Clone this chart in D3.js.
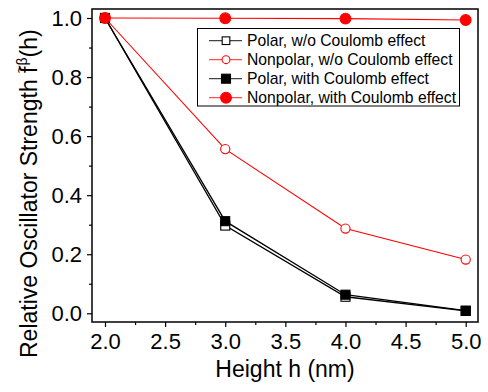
<!DOCTYPE html>
<html>
<head>
<meta charset="utf-8">
<script src="https://cdn.jsdelivr.net/npm/d3@7"></script>
<style>
  html, body { margin: 0; padding: 0; background: #fff; }
  svg { display: block; font-family: "Liberation Sans", Arial, sans-serif; }
</style>
</head>
<body>
<svg id="chart" width="488" height="392"></svg>
<script>
// Heights (nm) and relative oscillator strengths for each case
const heights = [2.0, 3.0, 4.0, 5.0];
const polarNoCoulomb = [1.0, 0.297, 0.056, 0.008];
const nonpolarNoCoulomb = [1.0, 0.556, 0.287, 0.182];
const polarCoulomb = [1.0, 0.312, 0.063, 0.009];
const nonpolarCoulomb = [1.0, 0.999, 0.998, 0.993];

const xTicks = [2.0, 2.5, 3.0, 3.5, 4.0, 4.5, 5.0];
const yTicks = [0.0, 0.2, 0.4, 0.6, 0.8, 1.0];

const series = [
  { name: "Polar, w/o Coulomb effect", values: polarNoCoulomb, color: "#000", shape: "square", filled: false },
  { name: "Nonpolar, w/o Coulomb effect", values: nonpolarNoCoulomb, color: "#ff0000", shape: "circle", filled: false },
  { name: "Polar, with Coulomb effect", values: polarCoulomb, color: "#000", shape: "square", filled: true },
  { name: "Nonpolar, with Coulomb effect", values: nonpolarCoulomb, color: "#ff0000", shape: "circle", filled: true }
];

const svg = d3.select("#chart");
const frame = { left: 92, right: 478, top: 9, bottom: 322 };

const x = d3.scaleLinear().domain([2, 5]).range([105, 465.7]);
const y = d3.scaleLinear().domain([0, 1]).range([313.3, 18]);

// Plot frame
svg.append("rect")
  .attr("x", frame.left).attr("y", frame.top)
  .attr("width", frame.right - frame.left).attr("height", frame.bottom - frame.top)
  .attr("fill", "none").attr("stroke", "#000").attr("stroke-width", 1.5);

// Minor ticks
const xMinor = d3.range(2.25, 5.0, 0.5);
const yMinor = d3.range(0.1, 1.0, 0.2);
svg.append("g").attr("transform", `translate(0,${frame.bottom})`)
  .call(d3.axisBottom(x).tickValues(xMinor).tickSize(3).tickFormat(""))
  .call(g => g.select(".domain").remove())
  .call(g => g.selectAll("line").attr("stroke-width", 1.2));
svg.append("g").attr("transform", `translate(${frame.left},0)`)
  .call(d3.axisLeft(y).tickValues(yMinor).tickSize(3).tickFormat(""))
  .call(g => g.select(".domain").remove())
  .call(g => g.selectAll("line").attr("stroke-width", 1.2));

// Major ticks and labels
svg.append("g").attr("transform", `translate(0,${frame.bottom})`)
  .call(d3.axisBottom(x).tickValues(xTicks).tickSize(5).tickPadding(6).tickFormat(d3.format(".1f")))
  .call(g => g.select(".domain").remove())
  .call(g => g.selectAll("line").attr("stroke-width", 1.2))
  .call(g => g.selectAll("text").attr("font-size", 22).attr("fill", "#000")
    .attr("font-family", "'Liberation Sans', Arial, sans-serif"));
svg.append("g").attr("transform", `translate(${frame.left},0)`)
  .call(d3.axisLeft(y).tickValues(yTicks).tickSize(5).tickPadding(5).tickFormat(d3.format(".1f")))
  .call(g => g.select(".domain").remove())
  .call(g => g.selectAll("line").attr("stroke-width", 1.2))
  .call(g => g.selectAll("text").attr("font-size", 22).attr("fill", "#000")
    .attr("font-family", "'Liberation Sans', Arial, sans-serif"));

// Axis titles
svg.append("text")
  .attr("x", (frame.left + frame.right) / 2).attr("y", 377)
  .attr("text-anchor", "middle").attr("font-size", 23)
  .text("Height h (nm)");

const yTitleGroup = svg.append("g").attr("transform", "translate(37,358) rotate(-90)");
const yTitle = yTitleGroup.append("text")
  .attr("text-anchor", "start").attr("font-size", 23);
const mainPart = yTitle.append("tspan").text("Relative Oscillator Strength f");
yTitle.append("tspan").attr("font-size", 14).attr("dy", -10).attr("dx", 1).text("\u03b2");
yTitle.append("tspan").attr("dy", 10).text("(h)");

// Tilde accent over the f
const fullLen = mainPart.node().getComputedTextLength();
const fNode = mainPart.node();
const fWidth = fNode.getSubStringLength(fNode.getNumberOfChars() - 1, 1);
yTitleGroup.append("text")
  .attr("x", fullLen - fWidth / 2 + 0.5).attr("y", -13)
  .attr("text-anchor", "middle").attr("font-size", 14)
  .text("~");

// Series lines and markers
const line = d3.line().x((d, i) => x(heights[i])).y(d => y(d));

function drawMarker(g, s, cx, cy, scale) {
  if (s.shape === "square") {
    const half = 4.5 * scale;
    g.append("rect")
      .attr("x", cx - half).attr("y", cy - half)
      .attr("width", 2 * half).attr("height", 2 * half)
      .attr("fill", s.filled ? s.color : "#fff")
      .attr("stroke", s.color).attr("stroke-width", 1.1);
  } else {
    g.append("circle")
      .attr("cx", cx).attr("cy", cy).attr("r", (s.filled ? 5.4 : 4.6) * scale)
      .attr("fill", s.filled ? s.color : "#fff")
      .attr("stroke", s.color).attr("stroke-width", 1.1);
  }
}

series.forEach(s => {
  const g = svg.append("g");
  g.append("path")
    .attr("d", line(s.values))
    .attr("fill", "none")
    .attr("stroke", s.color)
    .attr("stroke-width", s.color === "#000" ? 1.3 : 1.1);
  s.values.forEach((v, i) => drawMarker(g, s, x(heights[i]), y(v), 1));
});

// Legend
const legend = svg.append("g");
legend.append("rect")
  .attr("x", 197.5).attr("y", 28.5).attr("width", 262).attr("height", 77.5)
  .attr("fill", "#fff").attr("stroke", "#000").attr("stroke-width", 1);
series.forEach((s, i) => {
  const ry = 40.7 + i * 19;
  legend.append("line")
    .attr("x1", 209).attr("x2", 242).attr("y1", ry).attr("y2", ry)
    .attr("stroke", s.color === "#000" ? "#444" : "#ff5050").attr("stroke-width", 1.2);
  drawMarker(legend, s, 226, ry, s.filled ? 1 : 0.85);
  legend.append("text")
    .attr("x", 247).attr("y", ry).attr("dy", "0.35em")
    .attr("font-size", 15.7).text(s.name);
});
</script>
</body>
</html>
